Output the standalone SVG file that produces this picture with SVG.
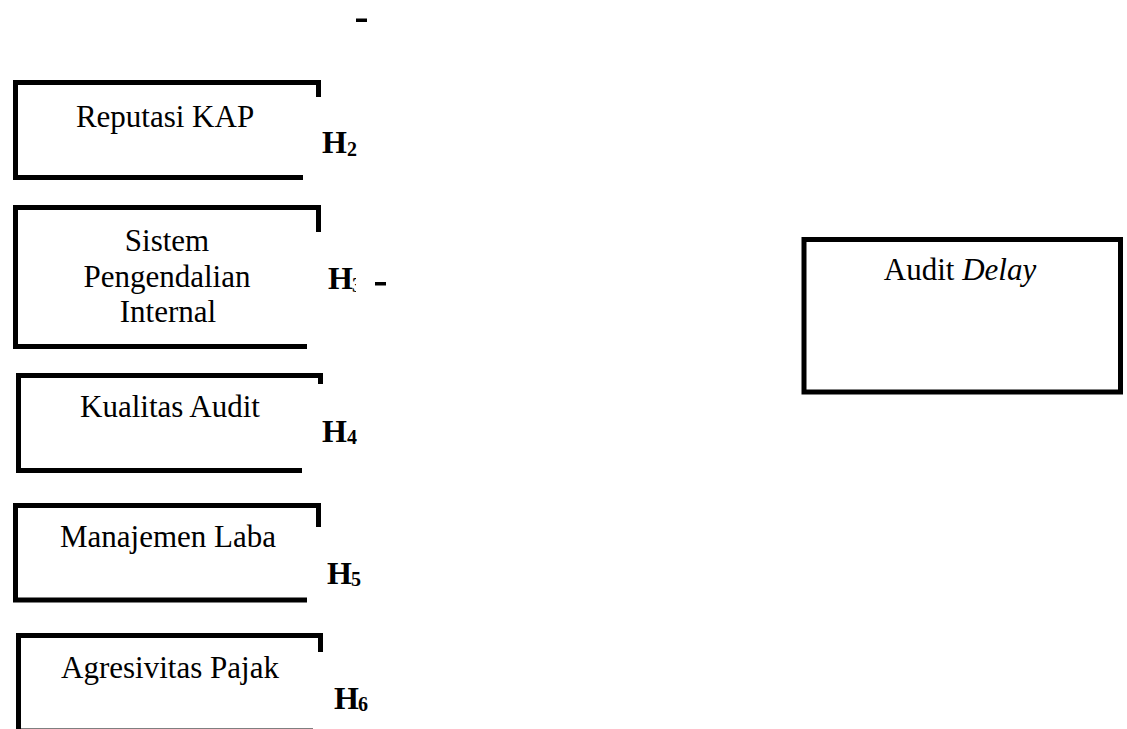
<svg xmlns="http://www.w3.org/2000/svg" width="1127" height="729" viewBox="0 0 1127 729">
<style>
  .frame { fill: none; stroke: #000; stroke-width: 5; stroke-linejoin: miter; }
  .lbl { font-family: "Liberation Serif", "Times New Roman", serif; font-size: 31px; fill: #000; text-anchor: middle; }
  .h { font-family: "Liberation Serif", "Times New Roman", serif; font-size: 32px; font-weight: bold; fill: #000; }
  .sub { font-family: "Liberation Serif", "Times New Roman", serif; font-size: 20px; font-weight: bold; fill: #000; }
  .dash { fill: #000; }
</style>
<defs>
  <clipPath id="clipH3"><rect x="352" y="270" width="4" height="25"/></clipPath>
</defs>
<rect width="1127" height="729" fill="#fff"/>

<g id="reputasi-kap">
  <path class="frame" d="M318.5,97 V82.5 H15.5 V177.5 H303"/>
  <text class="lbl" x="165" y="127">Reputasi KAP</text>
</g>

<g id="sistem-pengendalian-internal">
  <path class="frame" d="M318.5,232 V207.5 H15.5 V346.5 H307"/>
  <text class="lbl" x="167" y="251">Sistem</text>
  <text class="lbl" x="167" y="287">Pengendalian</text>
  <text class="lbl" x="168" y="322">Internal</text>
</g>

<g id="kualitas-audit">
  <path class="frame" d="M320.5,384 V375.5 H18.5 V470.5 H302"/>
  <text class="lbl" x="170" y="417">Kualitas Audit</text>
</g>

<g id="manajemen-laba">
  <path class="frame" d="M318.5,527 V505.5 H15.5 V600 H307"/>
  <text class="lbl" x="168" y="547">Manajemen Laba</text>
</g>

<g id="agresivitas-pajak">
  <path class="frame" d="M320.5,652 V635.5 H18.5 V731 H313"/>
  <text class="lbl" x="170" y="678">Agresivitas Pajak</text>
</g>

<g id="audit-delay">
  <rect class="frame" x="804" y="239.5" width="316.5" height="152.5"/>
  <text class="lbl" x="960" y="280">Audit <tspan font-style="italic">Delay</tspan></text>
</g>

<g id="labels">
  <g id="h2"><text class="h" x="322" y="153">H</text><text class="sub" x="347" y="156">2</text></g>
  <g id="h3"><text class="h" x="328" y="289">H</text><text class="sub" x="352" y="292" clip-path="url(#clipH3)">3</text></g>
  <g id="h4"><text class="h" x="322" y="442">H</text><text class="sub" x="347" y="444">4</text></g>
  <g id="h5"><text class="h" x="327" y="584">H</text><text class="sub" x="351" y="586">5</text></g>
  <g id="h6"><text class="h" x="334" y="709">H</text><text class="sub" x="358" y="711">6</text></g>
</g>

<g id="connectors">
  <rect class="dash" x="356" y="18.5" width="11" height="3.5"/>
  <rect class="dash" x="375" y="282" width="11" height="3.5"/>
</g>
</svg>
